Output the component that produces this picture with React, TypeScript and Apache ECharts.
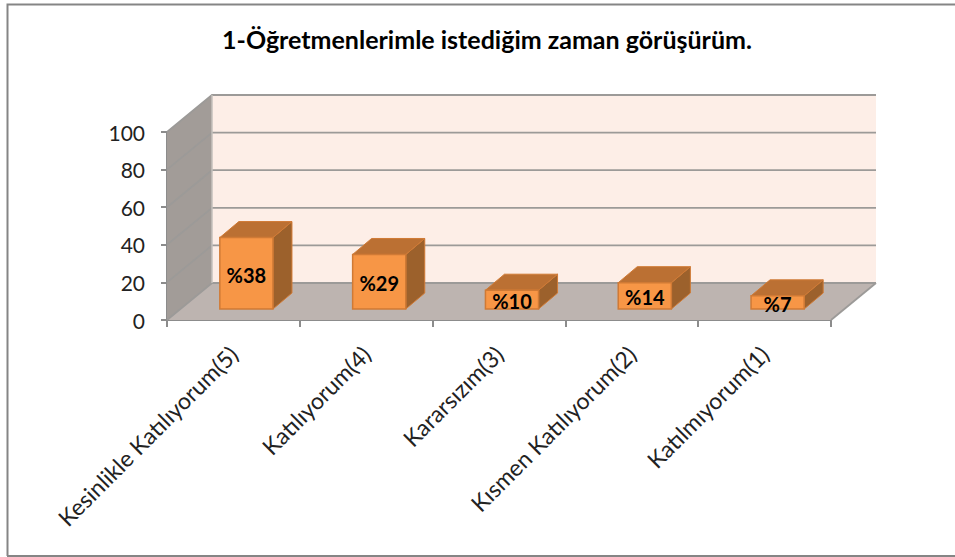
import React, { useEffect, useRef } from "react";
import * as echarts from "echarts";

const titleText = "1-Öğretmenlerimle istediğim zaman görüşürüm.";
const categories = ["Kesinlikle Katılıyorum(5)", "Katılıyorum(4)", "Kararsızım(3)", "Kısmen Katılıyorum(2)", "Katılmıyorum(1)"];
const values = [38, 29, 10, 14, 7];
const barLabels = ["%38", "%29", "%10", "%14", "%7"];
const gridValues = [0, 20, 40, 60, 80, 100];

const DX = 45;
const DY = -37;
const FONT = "Lato, Carlito, 'Noto Sans', sans-serif";

export default function App() {
  const ref = useRef<HTMLDivElement>(null);
  useEffect(() => {
    document.body.style.margin = "0";
    const chart = echarts.init(ref.current!, null, { renderer: "svg" });

    const poly = (points: number[][], fill: string, stroke?: string, lw = 1) => ({
      type: "polygon",
      shape: { points },
      style: { fill, stroke: stroke || "none", lineWidth: lw },
    });
    const pl = (points: number[][], stroke: string, lw = 1.6) => ({
      type: "polyline",
      shape: { points },
      style: { fill: "none", stroke, lineWidth: lw },
    });

    chart.setOption({
      animation: false,
      backgroundColor: "#ffffff",
      title: {
        text: titleText,
        left: 482,
        top: 21,
        textAlign: "center",
        textStyle: { fontFamily: FONT, fontSize: 25, fontWeight: "bold", color: "#000000" },
      },
      graphic: [
        {
          type: "polyline",
          silent: true,
          shape: { points: [[7.5, 556], [7.5, 4.5], [955, 4.5]] },
          style: { fill: "none", stroke: "#858585", lineWidth: 2 },
        },
        {
          type: "line",
          silent: true,
          shape: { x1: 7, y1: 556, x2: 955, y2: 556 },
          style: { stroke: "#858585", lineWidth: 2 },
        },
      ],
      grid: { left: 167, right: 124, top: 132, bottom: 237, containLabel: false },
      xAxis: {
        type: "category",
        data: categories,
        axisLine: { show: true, lineStyle: { color: "#8c8c8c", width: 2 } },
        axisTick: { show: true, alignWithLabel: false, length: 7, lineStyle: { color: "#8c8c8c", width: 2 } },
        axisLabel: {
          interval: 0,
          rotate: 45,
          margin: 30,
          fontFamily: FONT,
          fontSize: 23,
          color: "#222222",
        },
      },
      yAxis: {
        type: "value",
        min: 0,
        max: 100,
        interval: 20,
        splitLine: { show: false },
        axisLine: { show: true, lineStyle: { color: "#8c8c8c", width: 2 } },
        axisTick: { show: true, length: 6, lineStyle: { color: "#8c8c8c", width: 2 } },
        axisLabel: { margin: 22, fontFamily: FONT, fontSize: 21, color: "#222222" },
      },
      series: [
        {
          // walls and floor of the 3D box
          type: "custom",
          silent: true,
          z: 1,
          data: [[0]],
          renderItem: (_p: any, api: any) => {
            const bl = api.coord([0, 0]);
            const tl = api.coord([0, 100]);
            const size = api.size([1, 0])[0];
            const x0 = bl[0] - size / 2;
            const x1 = x0 + size * categories.length;
            const y0 = bl[1];
            const y1 = tl[1];
            return {
              type: "group",
              children: [
                poly([[x0 + DX, y1 + DY], [x1 + DX, y1 + DY], [x1 + DX, y0 + DY], [x0 + DX, y0 + DY]], "#fdeee7"),
                poly([[x0, y0], [x0, y1], [x0 + DX, y1 + DY], [x0 + DX, y0 + DY]], "#a29c98"),
                poly([[x0, y0], [x0 + DX, y0 + DY], [x1 + DX, y0 + DY], [x1, y0]], "#bdb4b0"),
              ],
            };
          },
        },
        {
          // gridlines wrapping side wall and back wall
          type: "custom",
          silent: true,
          z: 2,
          data: gridValues.map((v) => [0, v]),
          encode: { x: 0, y: 1 },
          renderItem: (_p: any, api: any) => {
            const pt = api.coord([0, api.value(1)]);
            const size = api.size([1, 0])[0];
            const x0 = pt[0] - size / 2;
            const x1 = x0 + size * categories.length;
            return pl([[x0, pt[1]], [x0 + DX, pt[1] + DY], [x1 + DX, pt[1] + DY]], "#9c9a98", 1.8);
          },
        },
        {
          // back wall corners, floor right edge
          type: "custom",
          silent: true,
          z: 2,
          data: [[0]],
          renderItem: (_p: any, api: any) => {
            const bl = api.coord([0, 0]);
            const tl = api.coord([0, 100]);
            const size = api.size([1, 0])[0];
            const x0 = bl[0] - size / 2;
            const x1 = x0 + size * categories.length;
            return {
              type: "group",
              children: [
                pl([[x0 + DX, bl[1] + DY], [x0 + DX, tl[1] + DY]], "#c4c0bd", 1.5),
                pl([[x1, bl[1]], [x1 + DX, bl[1] + DY]], "#9c9a98", 1.8),
              ],
            };
          },
        },
        {
          // 3D bars
          type: "custom",
          z: 3,
          data: values.map((v, i) => [i, v, barLabels[i]]),
          encode: { x: 0, y: 1 },
          renderItem: (_p: any, api: any) => {
            const i = api.value(0);
            const top = api.coord([i, api.value(1)]);
            const base = api.coord([i, 0]);
            const size = api.size([1, 0])[0];
            const w = size * 0.4;
            const frontX = base[0] + 13 - w / 2;
            const shiftY = -11;
            const ddx = 19;
            const ddy = -16;
            const xL = frontX;
            const xR = frontX + w;
            const yB = base[1] + shiftY;
            const yT = top[1] + shiftY;
            const edge = "#d07a35";
            return {
              type: "group",
              children: [
                poly([[xR, yT], [xR + ddx, yT + ddy], [xR + ddx, yB + ddy], [xR, yB]], "#9c612c", edge, 1),
                poly([[xL, yT], [xL + ddx, yT + ddy], [xR + ddx, yT + ddy], [xR, yT]], "#bb7033", edge, 1),
                poly([[xL, yT], [xR, yT], [xR, yB], [xL, yB]], "#f79646", edge, 1.5),
                {
                  type: "text",
                  style: {
                    x: (xL + xR) / 2,
                    y: (yT + yB) / 2 + 1.5,
                    text: api.value(2),
                    align: "center",
                    verticalAlign: "middle",
                    fontFamily: FONT,
                    fontSize: 20,
                    fontWeight: "bold",
                    fill: "#000000",
                  },
                },
              ],
            };
          },
        },
      ],
    });
    return () => chart.dispose();
  }, []);
  return <div ref={ref} style={{ width: 955, height: 557 }} />;
}
